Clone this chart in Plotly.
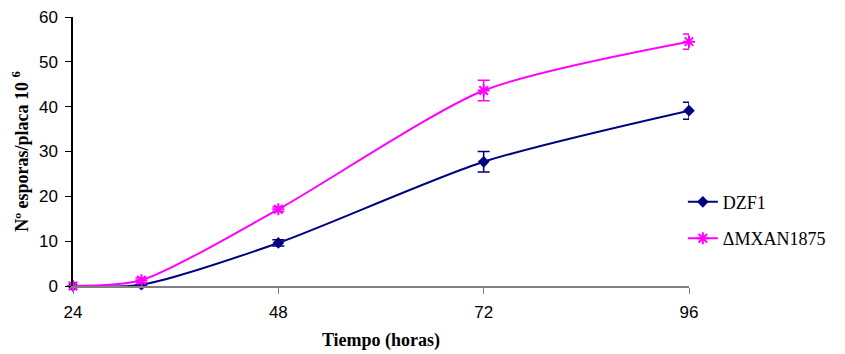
import plotly.graph_objects as go

hours = [24, 32, 48, 72, 96]
dzf1 = [0, 0.3, 9.6, 27.7, 39.1]
dzf1_err = [0, 0, 0.7, 2.3, 1.9]
mxan = [0, 1.3, 17.1, 43.6, 54.5]
mxan_err = [0, 0.5, 0.5, 2.3, 1.7]
xticks = [24, 48, 72, 96]

fig = go.Figure()
fig.add_trace(go.Scatter(
    x=hours, y=dzf1, name="DZF1", mode="lines+markers",
    line=dict(color="#000080", width=2, shape="spline", smoothing=0.7),
    marker=dict(symbol="diamond", size=9, color="#000080"),
    error_y=dict(type="data", array=dzf1_err, color="#000080", thickness=1.5, width=6),
    cliponaxis=False, legendgroup="a",
))
fig.add_trace(go.Scatter(
    x=hours, y=mxan, name="ΔMXAN1875", mode="lines+markers",
    line=dict(color="#FF00FF", width=2, shape="spline", smoothing=0.7),
    marker=dict(symbol="asterisk-open", size=10, color="#FF00FF",
                line=dict(color="#FF00FF", width=2)),
    error_y=dict(type="data", array=mxan_err, color="#FF00FF", thickness=1.5, width=6),
    cliponaxis=False, legendgroup="b",
))

fig.update_layout(
    width=845, height=354,
    margin=dict(l=73, r=156, t=17, b=68, autoexpand=False),
    paper_bgcolor="white", plot_bgcolor="white",
    font=dict(family="Liberation Sans, Arial", size=17, color="black"),
    showlegend=True,
    legend=dict(x=0.99, y=0.245, xanchor="left", yanchor="middle",
                font=dict(family="Liberation Serif, Times New Roman", size=18, color="black"),
                tracegroupgap=10, bgcolor="rgba(0,0,0,0)"),
    xaxis=dict(range=[24, 96], tickvals=xticks, ticktext=[str(v) for v in xticks],
               showgrid=False, zeroline=False, showline=True, linecolor="#808080",
               linewidth=1.5, ticks="outside", ticklen=6, tickcolor="#808080",
               ticklabelstandoff=4, automargin=False,
               title=dict(text="<b>Tiempo (horas)</b>", standoff=12,
                          font=dict(family="Liberation Serif, Times New Roman", size=18))),
    yaxis=dict(range=[0, 60], dtick=10, showgrid=False, zeroline=False,
               showline=True, linecolor="black", linewidth=1.5, automargin=False,
               ticks="outside", ticklen=6, tickcolor="black", ticklabelstandoff=4,
               title=dict(text="<b>Nº esporas/placa 10 <sup>6</sup></b>", standoff=6,
                          font=dict(family="Liberation Serif, Times New Roman", size=18))),
)

fig.write_html("out.html", config={"displayModeBar": False},
               post_script="document.body.style.margin='0';document.body.style.overflow='hidden';")
